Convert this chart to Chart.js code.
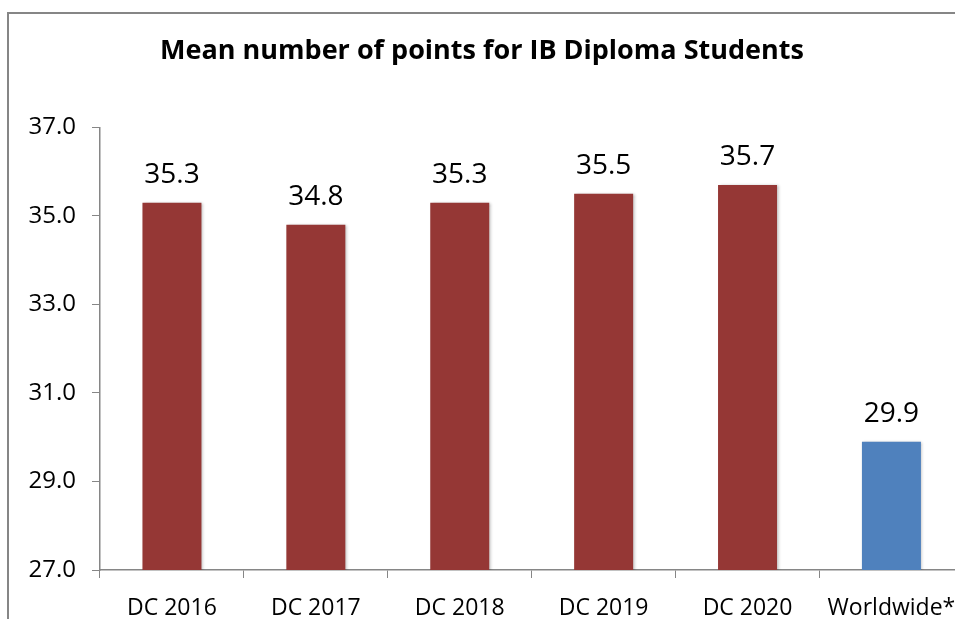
<!DOCTYPE html>
<html>
<head>
<meta charset="utf-8">
<script src="https://cdn.jsdelivr.net/npm/chart.js@4/dist/chart.umd.min.js"></script>
<style>
  html, body { margin: 0; padding: 0; width: 955px; height: 619px; overflow: hidden; background: #fff; }
  #frame { position: absolute; left: 7px; top: 12px; width: 1000px; height: 700px;
           border-left: 2px solid #868686; border-top: 2px solid #868686; }
  #wrap { position: absolute; left: 0; top: 0; width: 973px; height: 640px; }
</style>
</head>
<body>
<div id="frame"></div>
<div id="wrap"><canvas id="c"></canvas></div>
<script>
const categories = ["DC 2016", "DC 2017", "DC 2018", "DC 2019", "DC 2020", "Worldwide*"];
const meanPoints = [35.3, 34.8, 35.3, 35.5, 35.7, 29.9];
const barColors = ["#953735", "#953735", "#953735", "#953735", "#953735", "#4F81BD"];
const titleText = "Mean number of points for IB Diploma Students";
const yMin = 27, yMax = 37, yStep = 2;

const FONT = "'Open Sans', 'DejaVu Sans', sans-serif";

const shadowPlugin = {
  id: 'barShadow',
  beforeDatasetsDraw(chart) {
    const ctx = chart.ctx;
    ctx.save();
    ctx.shadowColor = 'rgba(0,0,0,0.28)';
    ctx.shadowBlur = 3;
    ctx.shadowOffsetX = 1.5;
    ctx.shadowOffsetY = 0;
  },
  afterDatasetsDraw(chart) {
    chart.ctx.restore();
  }
};

const labelPlugin = {
  id: 'valueLabels',
  afterDraw(chart) {
    const ctx = chart.ctx;
    const meta = chart.getDatasetMeta(0);
    ctx.save();
    ctx.fillStyle = '#000';
    ctx.font = "28px " + FONT;
    ctx.textAlign = 'center';
    ctx.textBaseline = 'alphabetic';
    meta.data.forEach((bar, i) => {
      ctx.fillText(meanPoints[i].toFixed(1), bar.x, bar.y - 20);
    });
    ctx.restore();
  }
};

new Chart(document.getElementById('c'), {
  type: 'bar',
  data: {
    labels: categories,
    datasets: [{
      data: meanPoints,
      backgroundColor: barColors,
      borderWidth: 0,
      categoryPercentage: 1.0,
      barPercentage: 0.41
    }]
  },
  options: {
    responsive: true,
    maintainAspectRatio: false,
    animation: false,
    layout: { padding: { left: 0, right: 9, top: 0, bottom: 0 } },
    plugins: {
      legend: { display: false },
      tooltip: { enabled: false },
      title: {
        display: true,
        text: titleText,
        color: '#000',
        font: { family: FONT, size: 27, weight: 'bold' },
        padding: { top: 35, bottom: 60 }
      }
    },
    scales: {
      x: {
        grid: { display: true, drawOnChartArea: false, drawTicks: true, tickLength: 8, color: '#868686', offset: true },
        border: { color: '#868686', width: 1.5 },
        ticks: { color: '#000', font: { family: FONT, size: 23 }, padding: 17, maxRotation: 0, autoSkip: false },
        afterFit(scale) { scale.height = 70; }
      },
      y: {
        min: yMin, max: yMax,
        grid: { display: true, drawOnChartArea: false, drawTicks: true, tickLength: 8, color: '#868686' },
        border: { color: '#868686', width: 1.5 },
        ticks: { stepSize: yStep, color: '#000', font: { family: FONT, size: 24 }, padding: 16,
                 callback: v => Number(v).toFixed(1) },
        afterFit(scale) { scale.width = 100; }
      }
    }
  },
  plugins: [shadowPlugin, labelPlugin]
});
</script>
</body>
</html>
